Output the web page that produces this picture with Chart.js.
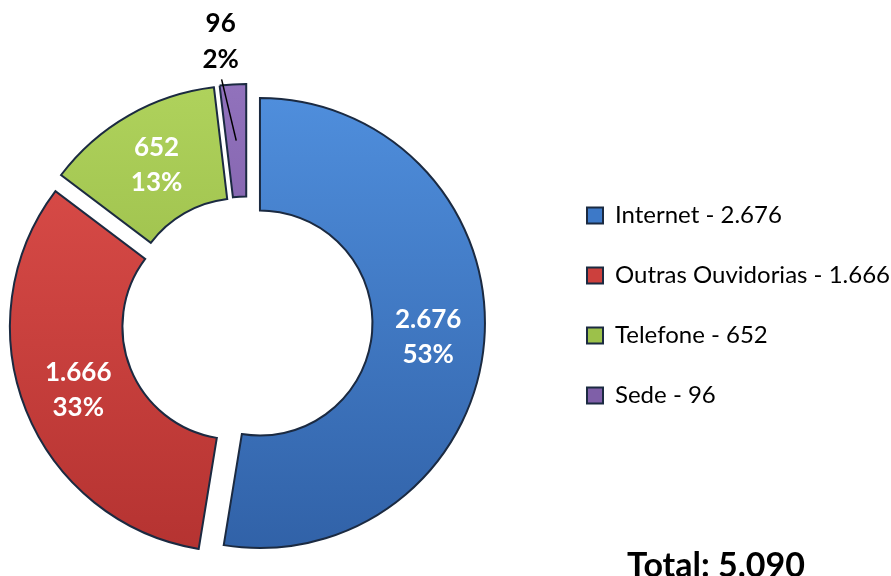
<!DOCTYPE html>
<html>
<head>
<meta charset="utf-8">
<title>Manifestações por canal</title>
<script src="https://cdn.jsdelivr.net/npm/chart.js@4.4.1/dist/chart.umd.min.js"></script>
<style>
  html, body { margin: 0; padding: 0; background: #fff; }
  #wrap { width: 891px; height: 576px; }
</style>
</head>
<body>
<div id="wrap"><canvas id="chart"></canvas></div>
<script>
// Data
const sources = ['Internet', 'Outras Ouvidorias', 'Telefone', 'Sede'];
const counts = [2676, 1666, 652, 96];

// Slice fills: light top, dark bottom, flat colour for the legend
const topColors = ['#4f8edc', '#de4f4b', '#afd25c', '#9172bc'];
const bottomColors = ['#3162a8', '#b53331', '#8aac3a', '#6c4c95'];
const legendColors = ['#3d79c8', '#cc403d', '#9cc14a', '#7f5fa8'];
const outline = '#1b2a41';

// Geometry of the ring (px)
const CX = 247;
const CY = 322;
const RADIUS = 225;
const EXPLODE = 52; // Chart.js moves an arc by offset / 4

const total = counts.reduce((sum, v) => sum + v, 0);

function fmt(n) {
  return String(n).replace(/\B(?=(\d{3})+(?!\d))/g, '.');
}
function pct(n) {
  return Math.round(n / total * 100);
}

Chart.defaults.font.family = 'Lato, "Open Sans", sans-serif';
Chart.defaults.color = '#000';

// Chart.js also grows the radius of an exploded arc (fully for half circles
// and thin slivers); Excel only slides it out, so draw without that fix
const arcDraw = Chart.ArcElement.prototype.draw;
Chart.ArcElement.prototype.draw = function(ctx) {
  const circ = this.circumference;
  this.circumference = circ > 0 ? Math.PI / 2 : 0;
  arcDraw.call(this, ctx);
  this.circumference = circ;
};

// Put the ring, legend and total where the original has them
const placeBoxes = {
  id: 'placeBoxes',
  afterLayout(chart) {
    chart.chartArea = {
      left: CX - RADIUS, right: CX + RADIUS,
      top: CY - RADIUS, bottom: CY + RADIUS,
      width: RADIUS * 2, height: RADIUS * 2
    };
    const legend = chart.legend;
    const w = legend.width;
    legend.left = 551;
    legend.right = legend.left + w;
    legend.top = 167.5;

    const title = chart.titleBlock;
    const h = title.height;
    title.left = 541;
    title.right = 891;
    title.top = 546;
    title.bottom = title.top + h;
  }
};

// Value and percentage on each slice, thin slices get an outside label
const sliceLabels = {
  id: 'sliceLabels',
  afterDatasetsDraw(chart) {
    const ctx = chart.ctx;
    const meta = chart.getDatasetMeta(0);
    const shift = EXPLODE / 4;
    ctx.save();
    ctx.font = 'bold 26px Lato, "Open Sans", sans-serif';
    ctx.textAlign = 'center';
    ctx.textBaseline = 'middle';
    meta.data.forEach((arc, i) => {
      const mid = (arc.startAngle + arc.endAngle) / 2;
      const midR = (arc.innerRadius + arc.outerRadius) / 2 + shift;
      const first = fmt(counts[i]);
      const second = pct(counts[i]) + '%';
      if (counts[i] / total >= 0.05) {
        const x = arc.x + Math.cos(mid) * midR;
        const y = arc.y + Math.sin(mid) * midR;
        ctx.fillStyle = '#fff';
        ctx.fillText(first, x, y - 17);
        ctx.fillText(second, x, y + 18);
      } else {
        const a = mid - 0.045;
        const x0 = arc.x + Math.cos(mid) * midR;
        const y0 = arc.y + Math.sin(mid) * midR;
        const x1 = arc.x + Math.cos(a) * (arc.outerRadius + 19);
        const y1 = arc.y + Math.sin(a) * (arc.outerRadius + 19);
        ctx.strokeStyle = '#000';
        ctx.lineWidth = 1.5;
        ctx.beginPath();
        ctx.moveTo(x0, y0);
        ctx.lineTo(x1, y1);
        ctx.stroke();
        const lx = arc.x + Math.cos(a) * (arc.outerRadius + 57);
        const ly = arc.y + Math.sin(a) * (arc.outerRadius + 57);
        ctx.fillStyle = '#000';
        ctx.fillText(first, lx + 3, ly - 18);
        ctx.fillText(second, lx + 3, ly + 18);
      }
    });
    ctx.restore();
  }
};

new Chart(document.getElementById('chart'), {
  type: 'doughnut',
  data: {
    labels: sources,
    datasets: [{
      data: counts,
      backgroundColor(c) {
        const area = c.chart.chartArea;
        if (!area) return legendColors[c.dataIndex];
        const g = c.chart.ctx.createLinearGradient(0, area.top, 0, area.bottom);
        g.addColorStop(0, topColors[c.dataIndex]);
        g.addColorStop(1, bottomColors[c.dataIndex]);
        return g;
      },
      borderColor: outline,
      borderWidth: 2,
      borderJoinStyle: 'miter',
      offset: EXPLODE
    }]
  },
  options: {
    responsive: true,
    maintainAspectRatio: false,
    animation: false,
    radius: RADIUS,
    cutout: '50%',
    plugins: {
      legend: {
        display: true,
        position: 'right',
        align: 'start',
        labels: {
          font: { size: 24 },
          color: '#000',
          boxWidth: 16,
          boxHeight: 16,
          padding: 36,
          generateLabels() {
            return sources.map((s, i) => ({
              text: `${s} - ${fmt(counts[i])}`,
              fillStyle: legendColors[i],
              strokeStyle: outline,
              lineWidth: 2,
              fontColor: '#000',
              hidden: false,
              index: i
            }));
          }
        }
      },
      title: {
        display: true,
        position: 'bottom',
        text: 'Total: ' + fmt(total),
        color: '#000',
        font: { size: 34, weight: 'bold' },
        padding: 0
      },
      tooltip: { enabled: false }
    }
  },
  plugins: [placeBoxes, sliceLabels]
});
</script>
</body>
</html>
